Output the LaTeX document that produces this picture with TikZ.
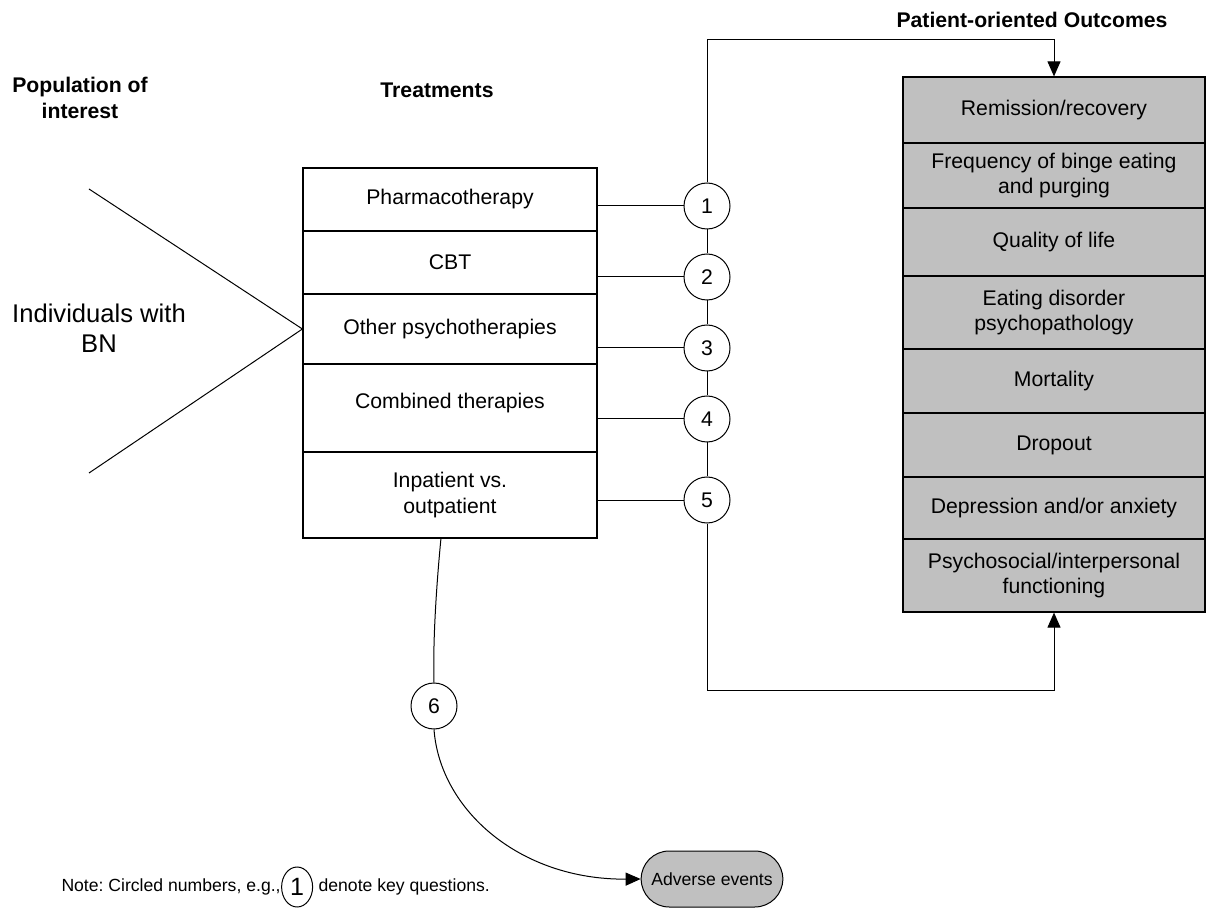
\documentclass[tikz,border=0pt]{standalone}
\usepackage{fontspec}
\setmainfont{Liberation Sans}
\usetikzlibrary{arrows.meta,positioning,shapes.geometric,shapes.misc}
\definecolor{outgray}{RGB}{192,192,192}
\frenchspacing
\tikzset{
  trtbox/.style={draw,line width=0.6pt,minimum width=147pt,inner sep=0pt,align=center,
    font=\fontsize{10.6}{12.8}\selectfont},
  outbox/.style={trtbox,fill=outgray,minimum width=151pt},
  kq/.style={draw,circle,minimum size=23pt,inner sep=0pt,font=\fontsize{10.6}{12.8}\selectfont},
  head/.style={font=\fontsize{10.6}{12.8}\selectfont\bfseries,align=center},
  notetext/.style={inner sep=0pt,font=\fontsize{8.8}{10.5}\selectfont},
  arr/.style={-{Triangle[length=7.5pt,width=6.5pt]}}
}
\begin{document}
\begin{tikzpicture}[x=0.5pt,y=-0.5pt,line width=0.5pt]
      \useasboundingbox (0,0) rectangle (1206,909);
      \node[head] (pophead) at (80,98) {Population of\\interest};
      \node[head] (trthead) at (437,90) {Treatments};
      \node[head] (outhead) at (1032,20) {Patient-oriented Outcomes};
      \node[align=center,font=\fontsize{12.8}{15}\selectfont] (pop) at (99,328) {Individuals with\\BN};

      \node[trtbox,minimum height=31.5pt] (pharm) at (450,199.5) {Pharmacotherapy};
      \node[trtbox,minimum height=31.5pt] (cbt) at (450,262.5) {CBT};
      \node[trtbox,minimum height=35pt] (oth) at (450,329) {Other psychotherapies};
      \node[trtbox,minimum height=44pt,text depth=7pt] (comb) at (450,408) {Combined therapies};
      \node[trtbox,minimum height=43pt] (inpat) at (450,495) {Inpatient vs.\\outpatient};

      \node[outbox,minimum height=33pt] (rem) at (1054,110) {Remission/recovery};
      \node[outbox,minimum height=32.5pt] (freq) at (1054,175.5) {Frequency of binge eating\\and purging};
      \node[outbox,minimum height=34pt] (qol) at (1054,242) {Quality of life};
      \node[outbox,minimum height=36.5pt] (edp) at (1054,312.5) {Eating disorder\\psychopathology};
      \node[outbox,minimum height=32pt] (mort) at (1054,381) {Mortality};
      \node[outbox,minimum height=32pt] (drop) at (1054,445) {Dropout};
      \node[outbox,minimum height=31pt] (dep) at (1054,508) {Depression and/or anxiety};
      \node[outbox,minimum height=36.5pt] (psy) at (1054,575.5) {Psychosocial/interpersonal\\functioning};

      \node[kq] (q1) at (707,206) {1};
      \node[kq] (q2) at (707,277) {2};
      \node[kq] (q3) at (707,348) {3};
      \node[kq] (q4) at (707,419) {4};
      \node[kq] (q5) at (707,500) {5};
      \node[kq] (q6) at (434,706) {6};

      \node[draw,rounded rectangle,fill=outgray,minimum width=77.5pt,minimum height=28pt,
        font=\fontsize{8.8}{10.5}\selectfont] (adv) at (712,879) {Adverse events};

      \node[notetext,anchor=west] (note) at (61,887) {Note: Circled numbers, e.g.,};
      \node[draw,ellipse,minimum width=15.5pt,minimum height=20pt,inner sep=0pt,
        font=\fontsize{12.5}{14}\selectfont,right=0pt of note] (noteq) {1};
      \node[notetext,right=2.5pt of noteq] (notetail) {denote key questions.};

      \coordinate (fanup) at (89,189);
      \coordinate (fanlo) at (89,473);
      \coordinate (topturn) at (707,40);
      \coordinate (botturn) at (707,690);
      \coordinate (sixstart) at (441,538);
      \begin{scope}
        \draw (fanup) -- (oth.west) -- (fanlo);
        \draw (q1.west -| pharm.east) -- (q1.west);
        \draw (q2.west -| cbt.east) -- (q2.west);
        \draw (q3.west -| oth.east) -- (q3.west);
        \draw (q4.west -| comb.east) -- (q4.west);
        \draw (q5.west -| inpat.east) -- (q5.west);
        \draw (q1.south) -- (q2.north);
        \draw (q2.south) -- (q3.north);
        \draw (q3.south) -- (q4.north);
        \draw (q4.south) -- (q5.north);
        \draw[arr] (q1.north) -- (topturn) -| (rem.north);
        \draw[arr] (q5.south) -- (botturn) -| (psy.south);
        \draw (sixstart) .. controls (435,600) and (433,650) .. (q6.north);
        \draw[arr] (q6.south) .. controls (440,810) and (520,880) .. (adv.west);
      \end{scope}
    \end{tikzpicture}
\end{document}
